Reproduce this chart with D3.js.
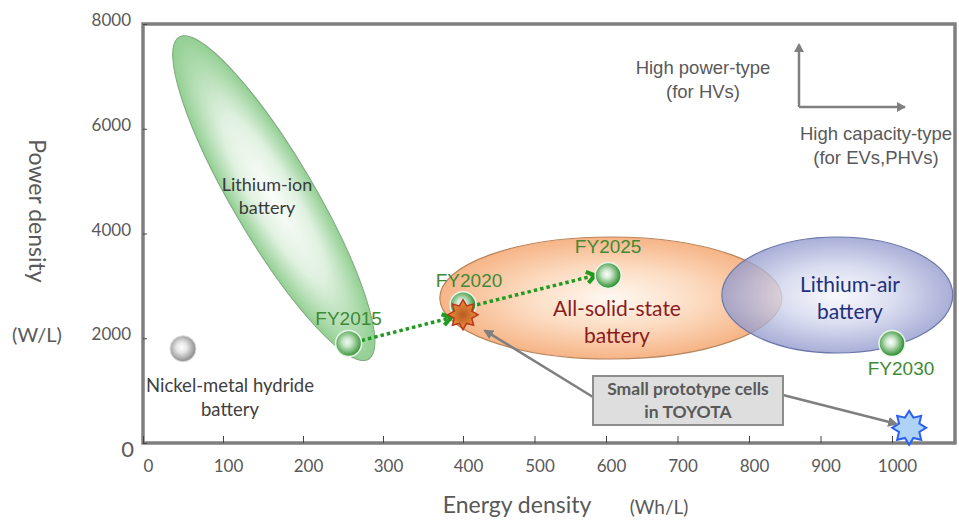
<!DOCTYPE html>
<html>
<head>
<meta charset="utf-8">
<script src="https://cdn.jsdelivr.net/npm/d3@7/dist/d3.min.js"></script>
<style>
  body { margin: 0; background: #fff; }
  svg { display: block; }
</style>
</head>
<body>
<div id="result"></div>
<script>
const width = 959, height = 521;
const frame = { left: 143, top: 24, right: 955, bottom: 443 };

// axis values
const xTicks = [0, 100, 200, 300, 400, 500, 600, 700, 800, 900, 1000];
const yTicks = [0, 2000, 4000, 6000, 8000];

// regions: energy (Wh/L) extent and power (W/L) extent
const liIonEnergy = [45, 282];
const liIonPower = [7750, 1600];
const solidEnergy = [371, 846];
const solidPower = [1604, 3933];
const airEnergy = [762, 1085];
const airPower = [1718, 3933];

// roadmap points
const milestones = ['FY2015', 'FY2020', 'FY2025', 'FY2030'];
const milestoneEnergy = [257, 400, 603, 1000];
const milestonePower = [1900, 2640, 3200, 1900];
const nimhPoint = [50, 1800];
const protoEnergy = [400, 1024];
const protoPower = [2450, 290];

const svg = d3.select('#result').append('svg')
  .attr('width', width).attr('height', height);
const defs = svg.append('defs');

// the source picture has a slightly uneven x axis, so the scale is polylinear
const x = d3.scaleLinear().domain([0, 400, 1000]).range([frame.left, 463, 892]);
const y = d3.scaleLinear().domain([0, 8000]).range([frame.bottom, frame.top]);

function radial(id, stops, cx, cy) {
  const g = defs.append('radialGradient').attr('id', id)
    .attr('cx', cx || '50%').attr('cy', cy || '50%').attr('r', '50%');
  stops.forEach(s => g.append('stop').attr('offset', s[0]).attr('stop-color', s[1]));
}
radial('gLiIon', [['0%', '#fbfdfb'], ['50%', '#e0f1e0'], ['100%', '#92cf92']]);
radial('gSolid', [['0%', '#fff8f2'], ['50%', '#fcdcc2'], ['100%', '#f6b486']]);
radial('gAir', [['0%', '#f7f7fc'], ['50%', '#d0d4ec'], ['100%', '#9098cc']]);
radial('gBall', [['0%', '#ffffff'], ['35%', '#cfe8cf'], ['100%', '#3a963a']], '45%', '45%');
radial('gGray', [['0%', '#ffffff'], ['40%', '#e6e6e6'], ['100%', '#979797']], '45%', '45%');
radial('gStar', [['0%', '#b85a22'], ['100%', '#f0903e']]);

const font = 'Lato, "Noto Sans", sans-serif';
const arial = '"Liberation Sans", Arial, sans-serif';

// frame
svg.append('rect')
  .attr('x', frame.left).attr('y', frame.top)
  .attr('width', frame.right - frame.left).attr('height', frame.bottom - frame.top)
  .attr('fill', 'none').attr('stroke', '#7f7f7f').attr('stroke-width', 3.5);

// axes
const xAxis = svg.append('g')
  .attr('transform', `translate(0,${frame.bottom})`)
  .call(d3.axisBottom(x).tickValues(xTicks).tickFormat(d3.format('d'))
    .tickSize(-7).tickPadding(17));
xAxis.select('.domain').remove();
xAxis.selectAll('line').attr('stroke', '#444').attr('stroke-width', 1);
xAxis.selectAll('text').attr('dx', 5)
  .style('font-family', font).style('font-size', '17px').attr('fill', '#595959');

const yAxis = svg.append('g')
  .attr('transform', `translate(${frame.left},0)`)
  .call(d3.axisLeft(y).tickValues(yTicks).tickFormat(d3.format('d'))
    .tickSize(-4).tickPadding(12));
yAxis.select('.domain').remove();
yAxis.selectAll('line').attr('stroke', '#444').attr('stroke-width', 1);
yAxis.selectAll('text')
  .style('font-family', font).attr('fill', '#595959')
  .style('font-size', d => d === 0 ? '22px' : '17px')
  .attr('dx', d => d === 0 ? 3 : 0)
  .attr('dy', d => d === 0 ? '0.62em' : '0.1em');

// axis titles
svg.append('text')
  .attr('transform', `translate(29,211) rotate(90)`)
  .attr('text-anchor', 'middle')
  .style('font-family', font).style('font-size', '23px').attr('fill', '#595959')
  .text('Power density');
svg.append('text')
  .attr('x', 37).attr('y', 342).attr('text-anchor', 'middle')
  .style('font-family', font).style('font-size', '20px').attr('fill', '#595959')
  .text('(W/L)');
svg.append('text')
  .attr('x', 517).attr('y', 513).attr('text-anchor', 'middle')
  .style('font-family', font).style('font-size', '23px').attr('fill', '#595959')
  .text('Energy density');
svg.append('text')
  .attr('x', 659).attr('y', 514).attr('text-anchor', 'middle')
  .style('font-family', font).style('font-size', '19px').attr('fill', '#595959')
  .text('(Wh/L)');

// lithium-ion ellipse (tilted)
const p1 = [x(liIonEnergy[0]), y(liIonPower[0])];
const p2 = [x(liIonEnergy[1]), y(liIonPower[1])];
const liCx = (p1[0] + p2[0]) / 2, liCy = (p1[1] + p2[1]) / 2;
const liLen = Math.hypot(p2[0] - p1[0], p2[1] - p1[1]) / 2;
const liAng = Math.atan2(p2[1] - p1[1], p2[0] - p1[0]) * 180 / Math.PI;
svg.append('ellipse')
  .attr('transform', `translate(${liCx},${liCy}) rotate(${liAng})`)
  .attr('rx', liLen).attr('ry', 41)
  .attr('fill', 'url(#gLiIon)').attr('stroke', '#80a880').attr('stroke-width', 1);

function boxEllipse(ex, py, fill, stroke, opacity) {
  return svg.append('ellipse')
    .attr('cx', (x(ex[0]) + x(ex[1])) / 2)
    .attr('cy', (y(py[0]) + y(py[1])) / 2)
    .attr('rx', Math.abs(x(ex[1]) - x(ex[0])) / 2)
    .attr('ry', Math.abs(y(py[1]) - y(py[0])) / 2)
    .attr('fill', fill).attr('fill-opacity', opacity)
    .attr('stroke', stroke).attr('stroke-width', 1.2);
}
boxEllipse(solidEnergy, solidPower, 'url(#gSolid)', '#b9865e', 1);
boxEllipse(airEnergy, airPower, 'url(#gAir)', '#6d76aa', 0.78);

// region labels
function label(lines, cx, cy, size, color, family, weight) {
  const t = svg.append('text').attr('text-anchor', 'middle')
    .style('font-family', family).style('font-size', size + 'px')
    .style('font-weight', weight || 'normal').attr('fill', color);
  lines.forEach((l, i) => {
    t.append('tspan').attr('x', cx).attr('y', cy + i * size * 1.3).text(l);
  });
  return t;
}
label(['Lithium-ion', 'battery'], 267, 191, 18, '#3a3a3a', font);
label(['All-solid-state', 'battery'], 617, 316, 21, '#8b1c1c', font);
label(['Lithium-air', 'battery'], 850, 292, 21, '#22307a', font);
label(['Nickel-metal hydride', 'battery'], 230, 392, 18.5, '#404040', font);

// legend of types
label(['High power-type', '(for HVs)'], 703, 74, 18.5, '#595959', arial);
label(['High capacity-type', '(for EVs,PHVs)'], 876, 140, 18.5, '#595959', arial);

defs.append('marker').attr('id', 'grayHead')
  .attr('viewBox', '0 0 10 10').attr('refX', 8).attr('refY', 5)
  .attr('markerWidth', 4).attr('markerHeight', 4).attr('orient', 'auto')
  .append('path').attr('d', 'M0,0L10,5L0,10z').attr('fill', '#7f7f7f');

svg.append('path')
  .attr('d', 'M799,107V45M799,107H905')
  .attr('fill', 'none').attr('stroke', '#7f7f7f').attr('stroke-width', 2.5);
svg.append('path').attr('d', 'M794,52L799,43L804,52z').attr('fill', '#7f7f7f');
svg.append('path').attr('d', 'M897,102L906,107L897,112z').attr('fill', '#7f7f7f');

// green dotted roadmap arrows
function dotted(a, b) {
  const ang = Math.atan2(b[1] - a[1], b[0] - a[0]);
  svg.append('line')
    .attr('x1', a[0]).attr('y1', a[1]).attr('x2', b[0]).attr('y2', b[1])
    .attr('stroke', '#229a22').attr('stroke-width', 3.5).attr('stroke-dasharray', '3.5,3');
  const s = 10;
  const pts = [-0.6, 0.6].map(d => [b[0] - s * Math.cos(ang + d), b[1] - s * Math.sin(ang + d)]);
  svg.append('path')
    .attr('d', `M${pts[0]}L${b}L${pts[1]}`)
    .attr('fill', 'none').attr('stroke', '#229a22').attr('stroke-width', 4)
    .attr('stroke-linejoin', 'miter');
}
const mp = milestones.map((m, i) => [x(milestoneEnergy[i]), y(milestonePower[i])]);
dotted([mp[0][0] + 13, mp[0][1] - 3], [x(protoEnergy[0]) - 12, y(protoPower[0]) + 3]);
dotted([x(protoEnergy[0]) + 14, y(protoPower[0]) - 10], [mp[2][0] - 13, mp[2][1]]);

// balls
svg.append('circle')
  .attr('cx', x(nimhPoint[0])).attr('cy', y(nimhPoint[1])).attr('r', 13)
  .attr('fill', 'url(#gGray)').attr('stroke', '#dcdcdc').attr('stroke-width', 1);
svg.selectAll('.ball').data(mp).enter().append('circle')
  .attr('class', 'ball')
  .attr('cx', d => d[0]).attr('cy', d => d[1]).attr('r', 13)
  .attr('fill', 'url(#gBall)').attr('stroke', '#eaf5ea').attr('stroke-width', 1.5)
  .attr('fill-opacity', (d, i) => i === 0 ? 0.85 : 1);

// milestone labels
const labelOffset = [[0, -25], [6, -25], [0, -29], [9, 25]];
svg.selectAll('.fy').data(milestones).enter().append('text')
  .attr('x', (d, i) => mp[i][0] + labelOffset[i][0])
  .attr('y', (d, i) => mp[i][1] + labelOffset[i][1] + 7)
  .attr('text-anchor', 'middle')
  .style('font-family', arial).style('font-size', '19px').attr('fill', '#3f8a34')
  .text(d => d);

// stars (prototype cells)
function star(cx, cy, ro, ri) {
  const pts = d3.range(16).map(i => {
    const a = -Math.PI / 2 + i * Math.PI / 8;
    const r = i % 2 ? ri : ro;
    return [cx + r * Math.cos(a), cy + r * Math.sin(a)];
  });
  return 'M' + pts.join('L') + 'Z';
}
svg.append('path')
  .attr('d', star(x(protoEnergy[0]), y(protoPower[0]), 15, 9.5))
  .attr('fill', 'url(#gStar)').attr('stroke', '#b4381a').attr('stroke-width', 1.5);
svg.append('path')
  .attr('d', star(x(protoEnergy[1]), y(protoPower[1]), 17, 11))
  .attr('fill', '#aed3f6').attr('stroke', '#2b61f0').attr('stroke-width', 2);

// callout box with arrows
svg.append('line')
  .attr('x1', 593).attr('y1', 397)
  .attr('x2', x(protoEnergy[0]) + 22).attr('y2', y(protoPower[0]) + 16)
  .attr('stroke', '#7f7f7f').attr('stroke-width', 2.5).attr('marker-end', 'url(#grayHead)');
svg.append('line')
  .attr('x1', 783).attr('y1', 395)
  .attr('x2', x(protoEnergy[1]) - 13).attr('y2', y(protoPower[1]) - 4)
  .attr('stroke', '#7f7f7f').attr('stroke-width', 2.5).attr('marker-end', 'url(#grayHead)');
svg.append('rect')
  .attr('x', 593).attr('y', 376).attr('width', 190).attr('height', 49)
  .attr('fill', '#dedede').attr('stroke', '#8c8c8c').attr('stroke-width', 2);
label(['Small prototype cells', 'in TOYOTA'], 688, 395, 17.5, '#595959', font, 'bold');
</script>
</body>
</html>
